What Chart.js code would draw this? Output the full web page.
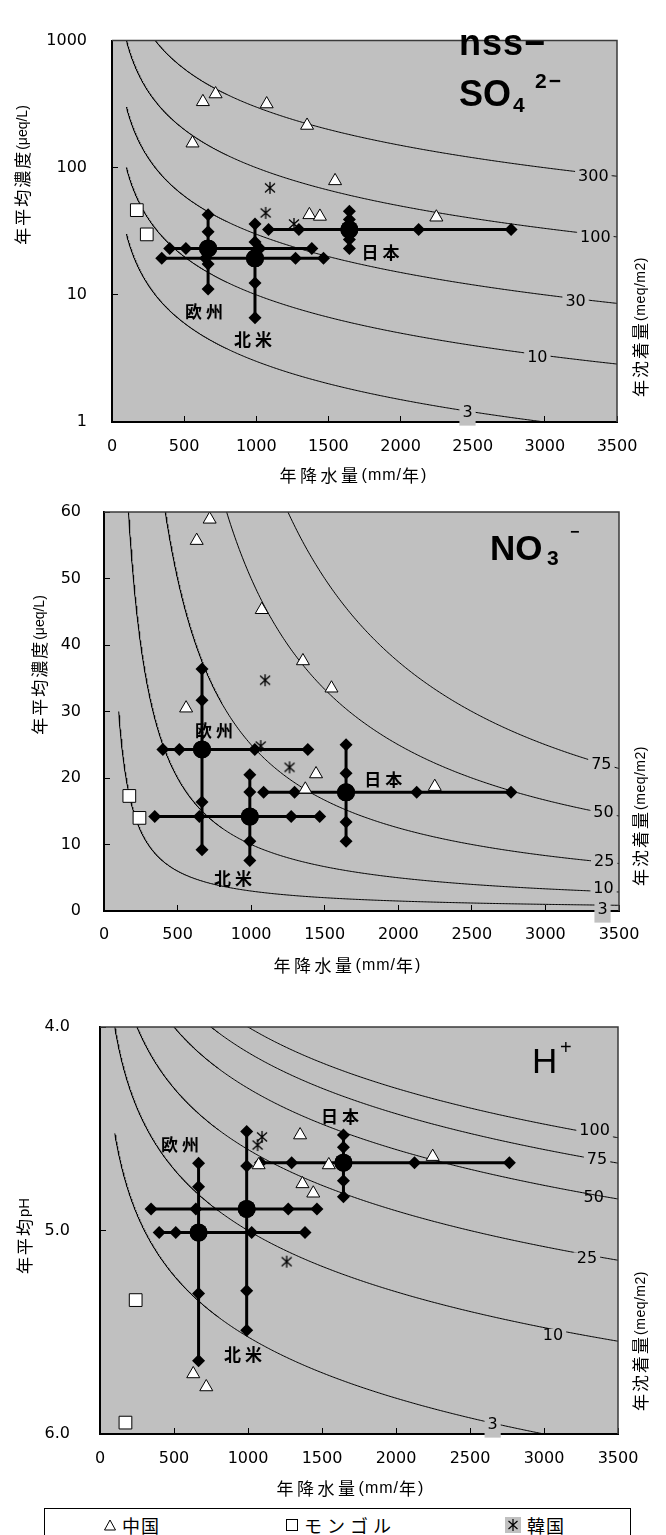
<!DOCTYPE html>
<html lang="ja"><head><meta charset="utf-8"><title>降水濃度と沈着量</title>
<script src="https://cdn.jsdelivr.net/npm/chart.js@4.4.1/dist/chart.umd.min.js"></script>
<style>
html,body{margin:0;padding:0;background:#fff}
body{width:666px;height:1535px;position:relative;overflow:hidden}
canvas.c{position:absolute;left:0;top:0;width:666px;height:1535px}
#legend{position:absolute;left:44px;top:1508px;width:587px;height:42px;border:1px solid #000;box-sizing:border-box;background:#fff;font-family:"Noto Sans CJK JP",sans-serif;font-size:18px;color:#000}
#legend .it{position:absolute;top:3px;height:25px;display:flex;align-items:center;white-space:nowrap}
#legend .it span{margin-left:6px}
</style></head><body>
<canvas class="c" id="c1" width="666" height="1535"></canvas>
<canvas class="c" id="c2" width="666" height="1535"></canvas>
<canvas class="c" id="c3" width="666" height="1535"></canvas>
<div id="legend">
  <div class="it" style="left:59px"><svg width="12" height="12" viewBox="0 0 12 12"><polygon points="6,1 11.5,11 0.5,11" fill="#fff" stroke="#000" stroke-width="1"/></svg><span style="letter-spacing:1px">中国</span></div>
  <div class="it" style="left:241px"><svg width="12" height="12" viewBox="0 0 12 12"><rect x="0.5" y="0.5" width="11" height="11" fill="#fff" stroke="#000"/></svg><span style="letter-spacing:5px">モンゴル</span></div>
  <div class="it" style="left:460px"><svg width="16" height="16" viewBox="0 0 16 16"><rect width="16" height="16" fill="#c0c0c0"/><path d="M8 2V14M3.5 4L12.5 12M12.5 4L3.5 12" stroke="#000" stroke-width="1.2"/></svg><span style="letter-spacing:1px">韓国</span></div>
</div>
<script>
// ---------------- data ----------------
const precipTicks = [0, 500, 1000, 1500, 2000, 2500, 3000, 3500];

// precipitation (mm/year): 5 points per region (median = index 2)
const euroPrecip   = [400, 512, 666, 1025, 1385];
const naPrecip     = [345, 648, 991, 1272, 1466];
const japanPrecip  = [1085, 1295, 1645, 2125, 2766];
// station precipitation
const chinaPrecip    = [630, 718, 1072, 1352, 558, 1546, 1368, 1441, 2248];
const mongoliaPrecip = [172, 241];
const koreaPrecip    = [1095, 1065, 1261];

// nss-SO4 2- (μeq/L)
const so4Ticks    = [1, 10, 100, 1000];
const so4Levels   = [3, 10, 30, 100, 300];
const so4Euro     = [11.1, 17.5, 23.2, 31.3, 42.7];
const so4NA       = [6.6, 12.4, 19.4, 26.0, 36.1];
const so4Japan    = [23.2, 27.2, 32.6, 39.2, 45.4];
const so4China    = [330, 380, 317, 215, 156, 78.8, 42.6, 41.4, 40.8];
const so4Mongolia = [46.4, 29.9];
const so4Korea    = [69.5, 44.1, 36.1];

// NO3- (μeq/L)
const no3Ticks    = [0, 10, 20, 30, 40, 50, 60];
const no3Levels   = [3, 10, 25, 50, 75];
const no3Euro     = [9.2, 16.4, 24.3, 31.7, 36.4];
const no3NA       = [7.6, 10.5, 14.2, 17.9, 20.5];
const no3Japan    = [10.5, 13.4, 17.85, 20.7, 25.0];
const no3China    = [55.7, 58.9, 45.3, 37.6, 30.5, 33.5, 18.3, 20.6, 18.7];
const no3Mongolia = [17.3, 14.0];
const no3Korea    = [34.7, 24.8, 21.6];

// pH (H+)
const phTicks    = [4.0, 5.0, 6.0];
const phLevels   = [3, 10, 25, 50, 75, 100];
const phEuro     = [4.67, 4.785, 5.01, 5.31, 5.64];
const phNA       = [4.514, 4.683, 4.894, 5.296, 5.49];
const phJapan    = [4.531, 4.591, 4.667, 4.755, 4.834];
const phChina    = [5.705, 5.769, 4.678, 4.531, null, 4.678, 4.771, 4.817, 4.637];
const phMongolia = [5.944, 5.342];
const phKorea    = [4.54, 4.58, 5.153];

// iso-deposition lines: deposition (meq/m2) = conc (μeq/L) * precip (mm) / 1000
const curvePrecip = [];
for (let p = 100; p <= 3500; p += (p < 800 ? 2 : 10)) curvePrecip.push(p);

// ---------------- styling helpers ----------------
const SANS = '"DejaVu Sans", sans-serif';
const ARIAL = '"Liberation Sans", Arial, sans-serif';
const CJK = '"Noto Sans CJK JP", "Noto Sans CJK SC", sans-serif';
const GRAY = '#c0c0c0';

function asteriskImg() {
  const c = document.createElement('canvas'); c.width = 14; c.height = 14;
  const g = c.getContext('2d'); g.strokeStyle = '#000'; g.lineWidth = 1.3;
  g.beginPath();
  g.moveTo(7, 1); g.lineTo(7, 13);
  g.moveTo(2, 2.5); g.lineTo(12, 11.5);
  g.moveTo(12, 2.5); g.lineTo(2, 11.5);
  g.stroke();
  return c;
}
const ASTER = asteriskImg();

function drawSegs(ctx, t) {
  ctx.save();
  ctx.translate(t.x, t.y);
  if (t.rot) ctx.rotate(t.rot * Math.PI / 180);
  ctx.fillStyle = '#000';
  ctx.textBaseline = t.baseline || 'middle';
  ctx.textAlign = 'left';
  let total = 0;
  const ws = t.segs.map(s => { ctx.font = s.f; ctx.letterSpacing = (s.ls || 0) + 'px'; const w = ctx.measureText(s.t).width; total += w; return w; });
  let cx = t.align === 'left' ? 0 : -total / 2;
  t.segs.forEach((s, i) => { ctx.font = s.f; ctx.letterSpacing = (s.ls || 0) + 'px'; ctx.fillText(s.t, cx, s.dy || 0); cx += ws[i]; });
  ctx.letterSpacing = '0px';
  ctx.restore();
}

const yTitleSegs = [{t: '年平均濃度', f: `17px ${CJK}`, ls: 2}, {t: '(μeq/L)', f: `14px ${ARIAL}`}];
const rTitleSegs = [{t: '年沈着量', f: `17px ${CJK}`, ls: 2}, {t: '(meq/m2)', f: `14px ${ARIAL}`, ls: 0.5}];
const xTitleSegs = [{t: '年降水量', f: `17px ${CJK}`, ls: 3.5}, {t: '(mm/', f: `16px ${ARIAL}`, ls: 1}, {t: '年', f: `17px ${CJK}`, ls: 2}, {t: ')', f: `16px ${ARIAL}`}];

const decorPlugin = {
  id: 'decor',
  beforeDraw(chart, args, o) {
    const {ctx, chartArea: a} = chart;
    ctx.save(); ctx.fillStyle = GRAY; ctx.fillRect(a.left, a.top, a.right - a.left, a.bottom - a.top); ctx.restore();
  },
  afterDatasetsDraw(chart, args, o) {
    const {ctx, scales: {x, y}} = chart;
    ctx.save();
    o.regionLabels.forEach(l => {
      drawSegs(ctx, {x: x.getPixelForValue(l.p), y: y.getPixelForValue(l.v), segs: [{t: l.text, f: `bold 17px ${CJK}`, ls: 4}]});
    });
    ctx.restore();
  },
  afterDraw(chart, args, o) {
    const {ctx, chartArea: a, scales: {x, y}} = chart;
    ctx.save();
    ctx.strokeStyle = '#3a3a3a'; ctx.lineWidth = 1.5;
    ctx.beginPath(); ctx.moveTo(a.left, a.top); ctx.lineTo(a.right, a.top); ctx.lineTo(a.right, a.bottom); ctx.stroke();
    ctx.font = `16px ${SANS}`; ctx.textBaseline = 'middle'; ctx.textAlign = 'center';
    o.curveLabels.forEach(l => {
      const px = x.getPixelForValue(l.p);
      const py = y.getPixelForValue(o.fromConc(1000 * l.level / l.p)) + (l.dy === undefined ? 3 : l.dy);
      const t = String(l.level);
      const w = ctx.measureText(t).width;
      if (!l.noBox) { ctx.fillStyle = GRAY; ctx.fillRect(px - w / 2 - 3, py - 6.5, w + 6, 19); }
      ctx.fillStyle = '#000'; ctx.fillText(t, px, py);
    });
    ctx.restore();
    o.texts.forEach(t => drawSegs(ctx, t));
  }
};

function makeChart(spec) {
  const datasets = [];
  spec.levels.forEach(D => {
    datasets.push({
      data: curvePrecip.map(p => ({x: p, y: spec.fromConc(1000 * D / p)})),
      showLine: true, borderColor: '#000', borderWidth: 1, pointRadius: 0, tension: 0, order: 3
    });
  });
  const cross = {
    showLine: true, borderColor: '#000', borderWidth: 3, tension: 0, order: 2,
    pointStyle: c => c.dataIndex === 2 ? 'circle' : 'rectRot',
    pointRadius: c => c.dataIndex === 2 ? 9 : 6.5,
    pointBackgroundColor: '#000', pointBorderColor: '#000', pointBorderWidth: 0
  };
  spec.regions.forEach(r => {
    const med = r.values[2], pmed = r.precip[2];
    datasets.push(Object.assign({data: r.precip.map(p => ({x: p, y: med}))}, cross));
    datasets.push(Object.assign({data: r.values.map(v => ({x: pmed, y: v}))}, cross));
  });
  const pts = (P, V) => P.map((p, i) => ({x: p, y: V[i]})).filter(d => d.y !== null && d.y !== undefined);
  datasets.push({data: pts(chinaPrecip, spec.china), pointStyle: 'triangle', pointRadius: 7.5,
    pointBackgroundColor: '#fff', pointBorderColor: '#000', pointBorderWidth: 1, order: 1});
  datasets.push({data: pts(mongoliaPrecip, spec.mongolia), pointStyle: 'rect', pointRadius: 9,
    pointBackgroundColor: '#fff', pointBorderColor: '#000', pointBorderWidth: 1, order: 1});
  datasets.push({data: pts(koreaPrecip, spec.korea), pointStyle: ASTER, pointRadius: 6, order: 1});

  const A = spec.area;
  const tickFont = {family: '"DejaVu Sans", sans-serif', size: 16};
  const yScale = Object.assign({
    position: 'left',
    afterFit: s => { s.width = A.left; },
    afterBuildTicks: s => { s.ticks = spec.yTicks.map(v => ({value: v})); },
    grid: {display: true, drawOnChartArea: false, drawTicks: true, tickLength: -6, color: '#000', lineWidth: 1},
    border: {display: true, color: '#000', width: 2},
    ticks: {color: '#000', font: tickFont, padding: spec.yPad, callback: spec.yFmt}
  }, spec.y);
  new Chart(document.getElementById(spec.id), {
    type: 'scatter',
    data: {datasets},
    options: {
      responsive: false, animation: false, events: [],
      layout: {padding: {top: A.top, right: 666 - A.right, left: 0, bottom: 0}},
      scales: {
        x: {
          type: 'linear', position: 'bottom', min: 0, max: 3500,
          afterFit: s => { s.height = 1535 - A.bottom; },
          afterBuildTicks: s => { s.ticks = precipTicks.map(v => ({value: v})); },
          grid: {display: true, drawOnChartArea: false, drawTicks: true, tickLength: -6, color: '#000', lineWidth: 1},
          border: {display: true, color: '#000', width: 2},
          ticks: {color: '#000', font: tickFont, padding: spec.xPad, maxRotation: 0, callback: v => String(v)}
        },
        y: yScale
      },
      plugins: {
        legend: {display: false}, tooltip: {enabled: false},
        decor: {fromConc: spec.fromConc, curveLabels: spec.curveLabels, regionLabels: spec.regionLabels, texts: spec.texts}
      }
    },
    plugins: [decorPlugin]
  });
}

// ---------------- chart 1: nss-SO4 ----------------
makeChart({
  id: 'c1', area: {left: 112, top: 16, right: 617, bottom: 422},
  y: {type: 'logarithmic', min: 1, max: 1000}, yTicks: so4Ticks, yFmt: v => String(v),
  yPad: 31, xPad: 21,
  fromConc: c => c, levels: so4Levels,
  regions: [{precip: euroPrecip, values: so4Euro}, {precip: naPrecip, values: so4NA}, {precip: japanPrecip, values: so4Japan}],
  china: so4China, mongolia: so4Mongolia, korea: so4Korea,
  curveLabels: [{level: 300, p: 3336}, {level: 100, p: 3350}, {level: 30, p: 3213}, {level: 10, p: 2948}, {level: 3, p: 2464, dy: 2}],
  regionLabels: [{text: '欧州', p: 652, v: 7.36}, {text: '北米', p: 991, v: 4.47}, {text: '日本', p: 1874, v: 21.7}],
  texts: [
    {x: 23, y: 175, rot: -90, segs: yTitleSegs},
    {x: 641, y: 327, rot: -90, segs: rTitleSegs},
    {x: 353, y: 476, segs: xTitleSegs},
    {x: 459, y: 55, align: 'left', baseline: 'alphabetic', segs: [{t: 'nss−', f: `bold 36px ${ARIAL}`, ls: 1}]},
    {x: 459, y: 106, align: 'left', baseline: 'alphabetic', segs: [{t: 'SO', f: `bold 36px ${ARIAL}`}]},
    {x: 513, y: 112, align: 'left', baseline: 'alphabetic', segs: [{t: '4', f: `bold 21px ${ARIAL}`}]},
    {x: 535, y: 88, align: 'left', baseline: 'alphabetic', segs: [{t: '2−', f: `bold 21px ${ARIAL}`, ls: 2}]}
  ]
});

// ---------------- chart 2: NO3 ----------------
makeChart({
  id: 'c2', area: {left: 104, top: 512, right: 619, bottom: 911},
  y: {type: 'linear', min: 0, max: 60}, yTicks: no3Ticks, yFmt: v => String(v),
  yPad: 29, xPad: 20,
  fromConc: c => c, levels: no3Levels,
  regions: [{precip: euroPrecip, values: no3Euro}, {precip: naPrecip, values: no3NA}, {precip: japanPrecip, values: no3Japan}],
  china: no3China, mongolia: no3Mongolia, korea: no3Korea,
  curveLabels: [{level: 75, p: 3380, dy: 1}, {level: 50, p: 3395, dy: 0}, {level: 25, p: 3399, dy: 0}, {level: 10, p: 3395, dy: -3}, {level: 3, p: 3388, dy: 5}],
  regionLabels: [{text: '欧州', p: 762, v: 27.1}, {text: '北米', p: 891, v: 4.9}, {text: '日本', p: 1912, v: 19.7}],
  texts: [
    {x: 40, y: 665, rot: -90, segs: yTitleSegs},
    {x: 641, y: 816, rot: -90, segs: rTitleSegs},
    {x: 347, y: 966, segs: xTitleSegs},
    {x: 490, y: 560, align: 'left', baseline: 'alphabetic', segs: [{t: 'NO', f: `bold 35px ${ARIAL}`}]},
    {x: 547, y: 565, align: 'left', baseline: 'alphabetic', segs: [{t: '3', f: `bold 21px ${ARIAL}`}]},
    {x: 570, y: 537, align: 'left', baseline: 'alphabetic', segs: [{t: '−', f: `bold 16px ${ARIAL}`}]}
  ]
});

// ---------------- chart 3: H+ (pH) ----------------
makeChart({
  id: 'c3', area: {left: 100, top: 1027, right: 618, bottom: 1434},
  y: {type: 'linear', min: 4, max: 6, reverse: true}, yTicks: phTicks, yFmt: v => v.toFixed(1),
  yPad: 36, xPad: 21,
  fromConc: c => 6 - Math.log10(c), levels: phLevels,
  regions: [{precip: euroPrecip, values: phEuro}, {precip: naPrecip, values: phNA}, {precip: japanPrecip, values: phJapan}],
  china: phChina, mongolia: phMongolia, korea: phKorea,
  curveLabels: [{level: 100, p: 3342, dy: -3}, {level: 75, p: 3358, dy: 0}, {level: 50, p: 3336, dy: 3, noBox: true}, {level: 25, p: 3290, dy: 4}, {level: 10, p: 3061, dy: 6}, {level: 3, p: 2653, dy: 2}],
  regionLabels: [{text: '欧州', p: 554, v: 4.58}, {text: '日本', p: 1635, v: 4.442}, {text: '北米', p: 980, v: 5.612}],
  texts: [
    {x: 25, y: 1236, rot: -90, segs: [{t: '年平均', f: `17px ${CJK}`, ls: 2}, {t: 'pH', f: `15px ${ARIAL}`}]},
    {x: 641, y: 1341, rot: -90, segs: rTitleSegs},
    {x: 350, y: 1489, segs: xTitleSegs},
    {x: 532, y: 1073, align: 'left', baseline: 'alphabetic', segs: [{t: 'H', f: `35px ${ARIAL}`}]},
    {x: 560, y: 1054, align: 'left', baseline: 'alphabetic', segs: [{t: '+', f: `20px ${ARIAL}`}]}
  ]
});
</script>
</body></html>
